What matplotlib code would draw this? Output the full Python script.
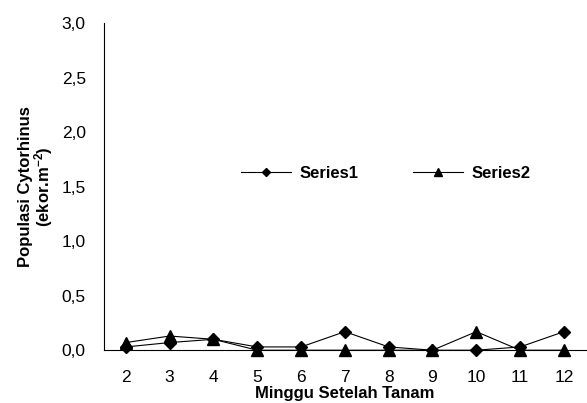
import matplotlib.pyplot as plt

# Data
minggu = [2, 3, 4, 5, 6, 7, 8, 9, 10, 11, 12]
series1 = [0.03, 0.07, 0.10, 0.03, 0.03, 0.17, 0.03, 0.00, 0.00, 0.03, 0.17]
series2 = [0.07, 0.13, 0.10, 0.00, 0.00, 0.00, 0.00, 0.00, 0.17, 0.00, 0.00]

plt.rcParams['font.family'] = ['Liberation Sans', 'DejaVu Sans']
plt.rcParams['mathtext.fontset'] = 'custom'
plt.rcParams['mathtext.rm'] = 'Liberation Sans:bold'
plt.rcParams['mathtext.default'] = 'rm'

fig = plt.figure(figsize=(5.87, 4.03), dpi=100)
ax = fig.add_axes([0.177, 0.131, 0.821, 0.812])

pos = list(range(len(minggu)))
ax.plot(pos, series1, color='black', lw=0.8, marker='D', ms=6.5, label='Series1', clip_on=False)
ax.plot(pos, series2, color='black', lw=0.8, marker='^', ms=8.5, label='Series2', clip_on=False)

ax.set_xlim(-0.5, len(minggu) - 0.5)
ax.set_ylim(0, 3.0)
ax.set_xticks(pos)
ax.set_xticklabels([str(m) for m in minggu])
yt = [0, 0.5, 1.0, 1.5, 2.0, 2.5, 3.0]
ax.set_yticks(yt)
ax.set_yticklabels([f'{v:.1f}'.replace('.', ',') for v in yt])
ax.tick_params(axis='x', length=0, labelsize=12.5, pad=14)
ax.tick_params(axis='y', length=0, labelsize=12.5, pad=13)

for s in ['top', 'right']:
    ax.spines[s].set_visible(False)
for s in ['left', 'bottom']:
    ax.spines[s].set_linewidth(0.8)
ax.patch.set_alpha(0)

ax.set_xlabel('Minggu Setelah Tanam', fontsize=12, fontweight='bold', labelpad=1)
ax.set_ylabel('Populasi Cytorhinus\n(ekor.m$^{-2}$)', fontsize=12,
              fontweight='bold', labelpad=5, linespacing=0.95)

ax.legend(loc='center', bbox_to_anchor=(0.585, 0.54), ncol=2, frameon=False,
          prop={'weight': 'bold', 'size': 12}, handlelength=3.0, columnspacing=3.3,
          handletextpad=0.5, markerscale=0.7)

fig.savefig('out.png', dpi=100)
